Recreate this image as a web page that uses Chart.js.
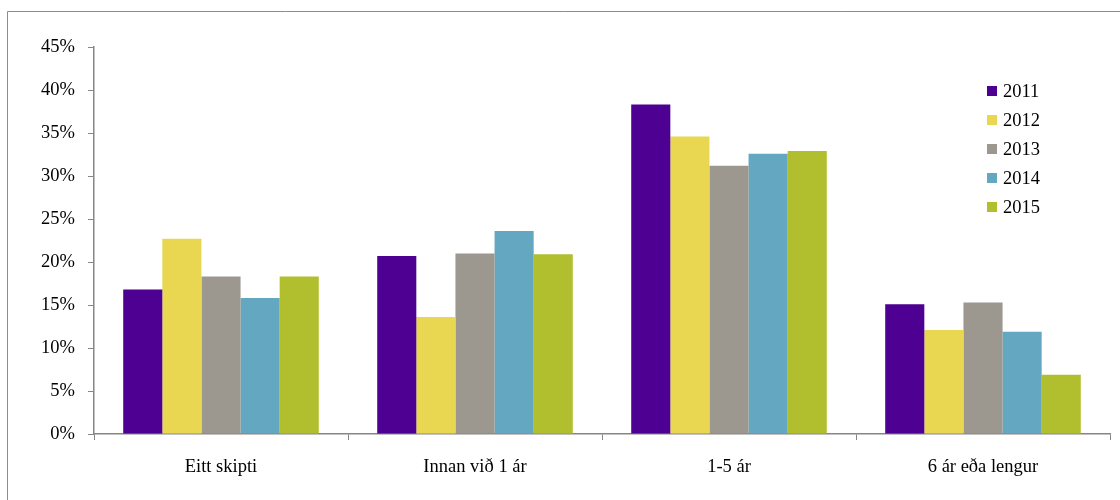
<!DOCTYPE html>
<html>
<head>
<meta charset="utf-8">
<script src="https://cdn.jsdelivr.net/npm/chart.js@4"></script>
<style>
  html, body { margin: 0; padding: 0; background: #fff; }
  #wrap { width: 1120px; height: 500px; position: relative; }
</style>
</head>
<body>
<div id="wrap"><canvas id="myChart" width="1120" height="500"></canvas></div>
<script>
// Categories and yearly shares (%)
const categories = ["Eitt skipti", "Innan við 1 ár", "1-5 ár", "6 ár eða lengur"];
const years = ["2011", "2012", "2013", "2014", "2015"];
const values2011 = [16.8, 20.7, 38.3, 15.1];
const values2012 = [22.7, 13.6, 34.6, 12.1];
const values2013 = [18.3, 21.0, 31.2, 15.3];
const values2014 = [15.8, 23.6, 32.6, 11.9];
const values2015 = [18.3, 20.9, 32.9, 6.9];
const yearColors = ["#4d0091", "#e9d752", "#9c978f", "#63a7c0", "#b1bf2f"];

const allValues = [values2011, values2012, values2013, values2014, values2015];

const fontFamily = "'Liberation Serif', 'Times New Roman', serif";

// outer frame (only left and top edges are visible in the original)
const framePlugin = {
    id: "frame",
    beforeDraw(chart) {
        const c = chart.ctx;
        c.save();
        c.strokeStyle = "#8c8c8c";
        c.lineWidth = 1;
        c.beginPath();
        c.moveTo(7.5, chart.height);
        c.lineTo(7.5, 11.5);
        c.lineTo(chart.width, 11.5);
        c.stroke();
        c.restore();
    }
};

// legend drawn inside the plot, top right
const legendPlugin = {
    id: "innerLegend",
    afterDraw(chart) {
        const c = chart.ctx;
        c.save();
        c.font = "18.5px " + fontFamily;
        c.textBaseline = "middle";
        chart.data.datasets.forEach((ds, i) => {
            const y = 91 + i * 29;
            c.fillStyle = ds.backgroundColor;
            c.fillRect(987, y - 5, 10, 10);
            c.fillStyle = "#000";
            c.fillText(ds.label, 1003, y + 1);
        });
        c.restore();
    }
};

const ctx = document.getElementById("myChart").getContext("2d");

const myChart = new Chart(ctx, {
    type: "bar",
    data: {
        labels: categories,
        datasets: years.map((y, i) => ({
            label: y,
            data: allValues[i],
            backgroundColor: yearColors[i],
            borderWidth: 0,
            categoryPercentage: 0.77,
            barPercentage: 1.0
        }))
    },
    options: {
        responsive: false,
        animation: false,
        layout: { padding: { top: 47, right: 10, left: 0, bottom: 0 } },
        scales: {
            y: {
                min: 0,
                max: 45,
                ticks: {
                    stepSize: 5,
                    padding: 13,
                    color: "#000",
                    font: { family: fontFamily, size: 18.5 },
                    callback: v => v + "%"
                },
                grid: {
                    drawOnChartArea: false,
                    tickLength: 6,
                    color: "#868686"
                },
                border: { color: "#868686", width: 1.5 },
                afterFit: s => { s.width = 94; }
            },
            x: {
                ticks: {
                    padding: 16,
                    color: "#000",
                    font: { family: fontFamily, size: 18.5 }
                },
                grid: {
                    drawOnChartArea: false,
                    offset: true,
                    tickLength: 6,
                    color: "#868686"
                },
                border: { color: "#868686", width: 1.5 },
                afterFit: s => { s.height = 66; }
            }
        },
        plugins: {
            legend: { display: false },
            tooltip: { enabled: false }
        }
    },
    plugins: [framePlugin, legendPlugin]
});
</script>
</body>
</html>
